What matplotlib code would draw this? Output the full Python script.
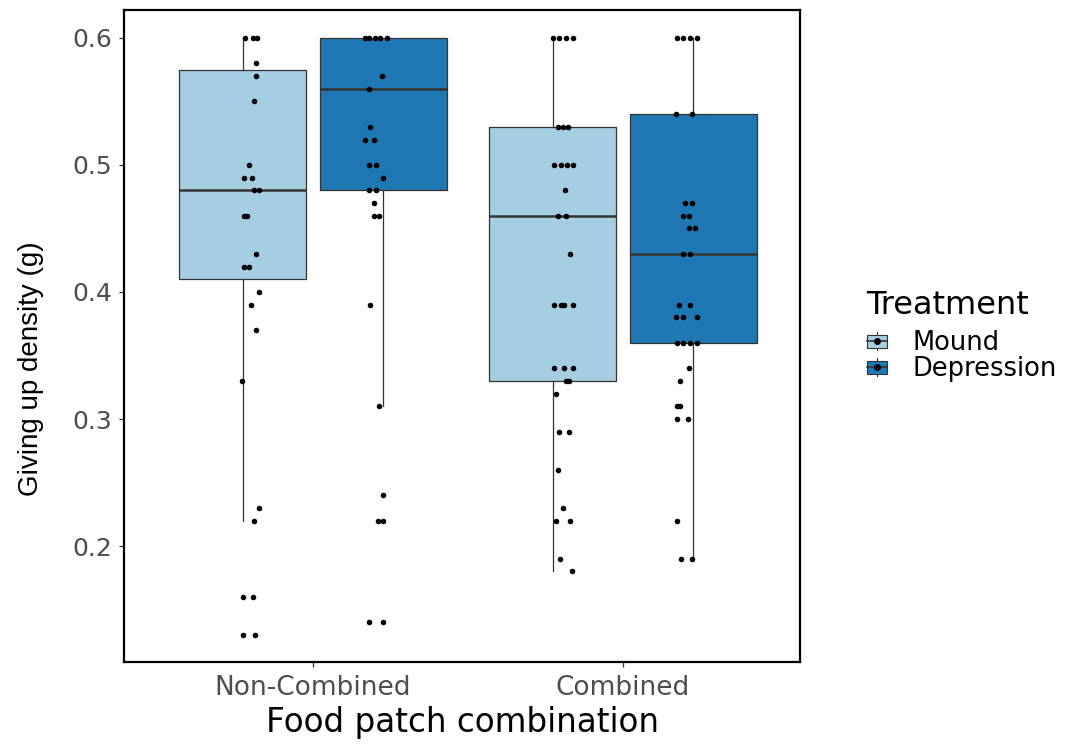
import matplotlib
matplotlib.use("Agg")
import matplotlib.pyplot as plt
from matplotlib.patches import Patch, Rectangle
from matplotlib.lines import Line2D
from matplotlib.legend_handler import HandlerBase

# groups along the x axis and the two treatments dodged inside each group
groups = ["Non-Combined", "Combined"]
treatments = ["Mound", "Depression"]
colors = ["#A6CEE3", "#1F78B4"]

# box summaries per (group, treatment): lower whisker, Q1, median, Q3, upper whisker
whislo = [[0.22, 0.31], [0.18, 0.19]]
q1 = [[0.41, 0.48], [0.33, 0.36]]
med = [[0.48, 0.56], [0.46, 0.43]]
q3 = [[0.575, 0.60], [0.53, 0.54]]
whishi = [[0.60, 0.60], [0.60, 0.60]]

# raw giving-up densities (g)
nc_mound = [0.60, 0.60, 0.60, 0.58, 0.57, 0.55, 0.50, 0.49, 0.49, 0.48, 0.48, 0.46, 0.46,
            0.43, 0.42, 0.42, 0.40, 0.39, 0.37, 0.33, 0.23, 0.22, 0.16, 0.16, 0.13, 0.13]
nc_depression = [0.60, 0.60, 0.60, 0.60, 0.60, 0.57, 0.56, 0.53, 0.52, 0.52, 0.50, 0.50, 0.49,
                 0.48, 0.48, 0.47, 0.46, 0.46, 0.39, 0.31, 0.24, 0.22, 0.22, 0.14, 0.14]
c_mound = [0.60, 0.60, 0.60, 0.60, 0.53, 0.53, 0.53, 0.50, 0.50, 0.50, 0.50, 0.48, 0.46, 0.46,
           0.43, 0.39, 0.39, 0.39, 0.39, 0.34, 0.34, 0.34, 0.33, 0.33, 0.32, 0.29, 0.29, 0.26,
           0.23, 0.22, 0.22, 0.19, 0.18]
c_depression = [0.60, 0.60, 0.60, 0.60, 0.54, 0.54, 0.47, 0.47, 0.46, 0.46, 0.45, 0.45, 0.43,
                0.43, 0.39, 0.39, 0.38, 0.38, 0.38, 0.36, 0.36, 0.36, 0.36, 0.34, 0.33, 0.31,
                0.31, 0.30, 0.30, 0.22, 0.19, 0.19]

# horizontal jitter of each point (x units, relative to its box centre)
nc_mound_jit = [0.006, 0.032, 0.045, 0.042, 0.042, 0.035, 0.019, 0.003, 0.029, 0.035, 0.052,
                0.003, 0.013, 0.042, 0.003, 0.019, 0.052, 0.026, 0.042, -0.003, 0.052, 0.035,
                0.0, 0.032, 0.0, 0.039]
nc_depression_jit = [-0.061, -0.045, -0.026, -0.010, 0.010, -0.006, -0.045, -0.042, -0.058,
                     -0.029, -0.045, -0.023, 0.0, -0.048, -0.023, -0.032, -0.029, -0.013,
                     -0.042, -0.013, 0.0, -0.016, 0.0, -0.045, 0.0]
c_mound_jit = [0.0, 0.019, 0.042, 0.065, 0.016, 0.032, 0.048, 0.003, 0.026, 0.045, 0.065,
               0.039, 0.016, 0.042, 0.055, 0.003, 0.026, 0.035, 0.065, 0.003, 0.035, 0.065,
               0.042, 0.052, 0.010, 0.019, 0.052, 0.016, 0.032, 0.010, 0.055, 0.023, 0.061]
c_depression_jit = [-0.052, -0.032, -0.010, 0.010, -0.055, -0.006, -0.026, -0.006, -0.035,
                    -0.013, -0.013, 0.006, -0.032, -0.010, -0.048, -0.010, -0.055, -0.032,
                    0.010, -0.052, -0.032, -0.010, 0.010, -0.013, -0.042, -0.052, -0.042,
                    -0.052, -0.016, -0.052, -0.039, -0.006]

points = [[nc_mound, nc_depression], [c_mound, c_depression]]
jitter = [[nc_mound_jit, nc_depression_jit], [c_mound_jit, c_depression_jit]]

dodge = 0.227
box_w = 0.41
edge = "#333333"


class BoxKey(HandlerBase):
    """Small boxplot glyph with a dot, used as legend key."""

    def create_artists(self, legend, orig_handle, xdescent, ydescent,
                       width, height, fontsize, trans):
        fc = orig_handle.get_facecolor()
        x0, y0 = -xdescent, -ydescent
        cx, cy = x0 + width / 2, y0 + height / 2
        bw, bh = width * 0.95, height * 0.7
        whisk = Line2D([cx, cx], [y0, y0 + height],
                       color=edge, lw=0.8, transform=trans)
        box = Rectangle((cx - bw / 2, cy - bh / 2), bw, bh, facecolor=fc,
                        edgecolor=edge, lw=0.8, transform=trans)
        mline = Line2D([cx - bw / 2, cx + bw / 2], [cy, cy], color=edge, lw=1.2,
                       transform=trans)
        dot = Line2D([cx], [cy], marker="o", ms=4, color="black", lw=0,
                     transform=trans)
        return [whisk, box, mline, dot]


fig = plt.figure(figsize=(10.67, 7.44), dpi=100)
ax = fig.add_axes([0.1162, 0.1102, 0.6336, 0.8764])

for gi in range(len(groups)):
    for ti in range(len(treatments)):
        pos = gi + 1 + (ti - 0.5) * 2 * dodge
        stats = [dict(med=med[gi][ti], q1=q1[gi][ti], q3=q3[gi][ti],
                      whislo=whislo[gi][ti], whishi=whishi[gi][ti])]
        ax.bxp(stats, positions=[pos], widths=box_w, patch_artist=True,
               showcaps=False, showfliers=False, manage_ticks=False,
               boxprops=dict(facecolor=colors[ti], edgecolor=edge, linewidth=0.9),
               whiskerprops=dict(color=edge, linewidth=0.9),
               medianprops=dict(color=edge, linewidth=1.8))
        xs = [pos + j for j in jitter[gi][ti]]
        ax.scatter(xs, points[gi][ti], s=16, color="black", zorder=3, linewidths=0)

ax.set_xlim(0.39, 2.571)
ax.set_ylim(0.1087, 0.622)
ax.set_xticks([1, 2])
ax.set_xticklabels(groups)
ax.set_yticks([0.2, 0.3, 0.4, 0.5, 0.6])
ax.set_yticklabels(["0.2", "0.3", "0.4", "0.5", "0.6"])
ax.tick_params(axis="both", colors=edge, length=3.6, width=0.9, labelcolor="#4D4D4D")
ax.tick_params(axis="y", labelsize=18, pad=5)
ax.tick_params(axis="x", labelsize=19, pad=6)
for sp in ax.spines.values():
    sp.set_linewidth(1.6)
    sp.set_color("black")

ax.set_xlabel("Food patch combination", fontsize=23.5, labelpad=3)
ax.set_ylabel("Giving up density (g)", fontsize=20, family="Liberation Sans")
ax.yaxis.set_label_coords(-0.118, 0.45)

# legend: title drawn separately so it can sit a little above the keys
fig.text(0.8116, 0.590, "Treatment", fontsize=23, va="center", ha="left")
handles = [Patch(facecolor=c) for c in colors]
fig.legend(handles, treatments, handler_map={Patch: BoxKey()},
           loc="upper left", bbox_to_anchor=(0.8116, 0.556), frameon=False,
           fontsize=18.5, handlelength=0.85, handleheight=0.7, handletextpad=0.95,
           labelspacing=0.0, borderaxespad=0, borderpad=0)

fig.savefig("out.png", dpi=100)
